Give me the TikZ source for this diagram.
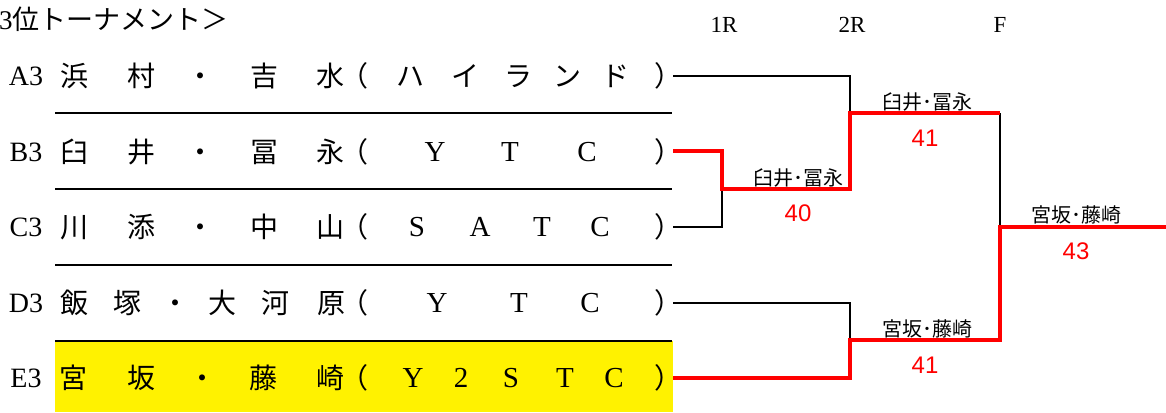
\documentclass[tikz,border=0pt]{standalone}
\usepackage{fontspec}
\setmainfont{Liberation Serif}
\newfontfamily\jp{Noto Sans CJK JP}
\newfontfamily\arialf{Liberation Sans}
\tikzset{
 jpc/.style={inner sep=0pt, text height=24.6pt, text depth=3.4pt, font=\jp\fontsize{28}{28}\selectfont},
 latc/.style={inner sep=0pt, font=\fontsize{29}{29}\selectfont},
 lab/.style={inner sep=0pt, font=\fontsize{28}{28}\selectfont},
 rnd/.style={inner sep=0pt, font=\fontsize{23}{23}\selectfont},
 ttl/.style={inner sep=0pt, anchor=west, font=\fontsize{27}{27}\selectfont},
 win/.style={inner sep=0pt, text height=17.6pt, text depth=2.4pt, font=\jp\fontsize{20}{20}\selectfont},
 score/.style={inner sep=0pt, text=red, font=\arialf\fontsize{24}{24}\selectfont},
 sep/.style={line width=1.3pt},
 blk/.style={line width=1.8pt},
 redl/.style={line width=3.2pt, red},
}
\begin{document}
\begin{tikzpicture}[x=1pt,y=-1pt]
\useasboundingbox (0,0) rectangle (1166,412);
\fill[yellow] (55,341) rectangle (673,412);
\foreach \y in {113,189,265,341} \draw[sep] (55,\y) -- (672,\y);

% title and rounds
\node[ttl] (title) at (-1,19) {3{\jp 位トーナメント＞}};
\node[rnd] (r1) at (724,25) {1R};
\node[rnd] (r2) at (852,25) {2R};
\node[rnd] (r3) at (1000,25) {F};

% row A
\node[lab] (la) at (26,76) {A3};
\foreach \x/\c in {74/浜,141/村,200/・,264/吉,330/水,354/（,410/ハ,465/イ,518/ラ,567/ン,615/ド,668/）}
  \node[jpc] (a\x) at (\x,76) {\c};
% row B
\node[lab] (lb) at (26,152) {B3};
\foreach \x/\c in {74/臼,141/井,200/・,264/冨,330/永,354/（,668/）}
  \node[jpc] (b\x) at (\x,152) {\c};
\foreach \x/\c in {435/Y,510/T,587/C}
  \node[latc] (b\x) at (\x,152) {\c};
% row C
\node[lab] (lc) at (26,227) {C3};
\foreach \x/\c in {74/川,141/添,200/・,264/中,330/山,354/（,668/）}
  \node[jpc] (c\x) at (\x,227) {\c};
\foreach \x/\c in {417/S,480/A,542/T,600/C}
  \node[latc] (c\x) at (\x,227) {\c};
% row D
\node[lab] (ld) at (26,303) {D3};
\foreach \x/\c in {74/飯,127/塚,175/・,222/大,275/河,331/原,354/（,668/）}
  \node[jpc] (d\x) at (\x,303) {\c};
\foreach \x/\c in {437/Y,519/T,590/C}
  \node[latc] (d\x) at (\x,303) {\c};
% row E
\node[lab] (le) at (26,378) {E3};
\foreach \x/\c in {73/宮,141/坂,202/・,263/藤,330/崎,354/（,668/）}
  \node[jpc] (e\x) at (\x,378) {\c};
\foreach \x/\c in {413/Y,461/2,511/S,565/T,614/C}
  \node[latc] (e\x) at (\x,378) {\c};

% bracket points
\coordinate (eA) at (673,76);
\coordinate (eB) at (673,151);
\coordinate (eC) at (673,227);
\coordinate (eD) at (673,303);
\coordinate (eE) at (673,378);
\coordinate (m1) at (722,189);
\coordinate (m2) at (850,113);
\coordinate (m3) at (850,340);
\coordinate (m4) at (1000,227);
\coordinate (m5) at (1000,113);
\coordinate (w) at (1166,227);

\draw[blk] (eA) -| (m2);
\draw[blk] (eC) -| (m1);
\draw[blk] (eD) -| (m3);
\draw[blk] (m5) -- (m4);
\draw[redl] (eB) -| (m1) -| (m2) -- (m5);
\draw[redl] (eE) -| (m3) -| (m4) -- (w);

% winners and scores
\node[win] (w1) at (798,178) {臼井･冨永};
\node[score] (s1) at (798,213) {40};
\node[win] (w2) at (927,102) {臼井･冨永};
\node[score] (s2) at (925,138) {41};
\node[win] (w3) at (1076,215) {宮坂･藤崎};
\node[score] (s3) at (1076,251) {43};
\node[win] (w4) at (927,329) {宮坂･藤崎};
\node[score] (s4) at (925,365) {41};
\end{tikzpicture}
\end{document}
